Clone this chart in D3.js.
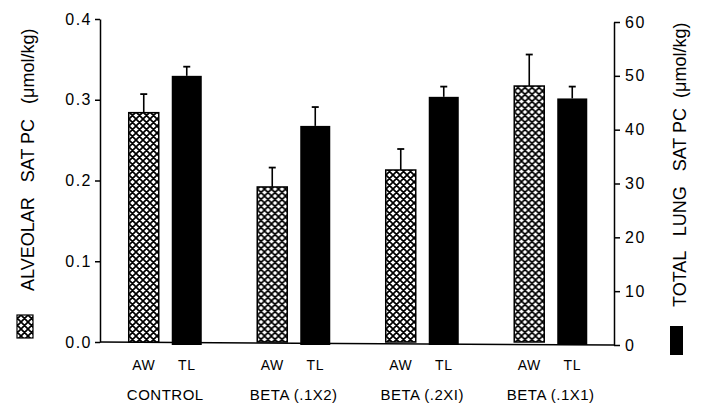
<!DOCTYPE html>
<html>
<head>
<meta charset="utf-8">
<script src="https://cdn.jsdelivr.net/npm/d3@7"></script>
<style>
  body { margin: 0; background: #fff; }
  svg { display: block; font-family: "Liberation Sans", Arial, sans-serif; }
</style>
</head>
<body>
<svg id="chart" width="702" height="408"></svg>
<script>
// Data
var groups = ['CONTROL', 'BETA (.1X2)', 'BETA (.2XI)', 'BETA (.1X1)'];
var measures = ['AW', 'TL'];
var awMean = [0.284, 0.192, 0.213, 0.317];   // alveolar wash, left axis
var awErr  = [0.023, 0.024, 0.026, 0.039];
var tlMean = [50.0, 40.7, 46.1, 45.8];       // total lung, right axis
var tlErr  = [1.7, 3.5, 1.9, 2.2];
var leftTicks  = [0, 0.1, 0.2, 0.3, 0.4];
var rightTicks = [0, 10, 20, 30, 40, 50, 60];

var svg = d3.select('#chart');

// crosshatch pattern for AW bars
var defs = svg.append('defs');
var pat = defs.append('pattern')
    .attr('id', 'xhatch')
    .attr('patternUnits', 'userSpaceOnUse')
    .attr('width', 7)
    .attr('height', 7);
pat.append('rect').attr('width', 7).attr('height', 7).attr('fill', '#fff');
pat.append('path')
    .attr('d', 'M0,0L7,7M7,0L0,7M-1,6L1,8M6,-1L8,1M-1,1L1,-1M6,8L8,6')
    .attr('stroke', '#000')
    .attr('stroke-width', 1.7);

// Scales
var xGroup = d3.scaleBand()
    .domain(groups)
    .range([101, 615])
    .padding(0);

var xInner = d3.scaleBand()
    .domain(measures)
    .range([0, xGroup.bandwidth()])
    .paddingInner(0.302)
    .paddingOuter(0.645);

var yL = d3.scaleLinear().domain([0, 0.4]).range([342, 19]);
var yR = d3.scaleLinear().domain([0, 60]).range([345, 22]);

var data = groups.map((g, i) => ({
    group: g,
    aw: awMean[i], awErr: awErr[i],
    tl: tlMean[i], tlErr: tlErr[i]
}));

// Axes
var leftAxis = svg.append('g')
    .attr('transform', 'translate(100,0)')
    .call(d3.axisLeft(yL)
        .tickValues(leftTicks)
        .tickFormat(d3.format('.1f'))
        .tickSize(5)
        .tickSizeOuter(0)
        .tickPadding(3));

var rightAxis = svg.append('g')
    .attr('transform', 'translate(614,0)')
    .call(d3.axisRight(yR)
        .tickValues(rightTicks)
        .tickSize(6)
        .tickSizeOuter(0)
        .tickPadding(5));

[leftAxis, rightAxis].forEach(a => {
    a.selectAll('path, line').attr('stroke', '#000').attr('stroke-width', 1.5);
    a.selectAll('text')
        .attr('fill', '#000')
        .attr('font-size', '16px')
        .attr('letter-spacing', '1.5px');
});

// baseline between the two axes
svg.append('line')
    .attr('x1', 100).attr('y1', yL(0))
    .attr('x2', 614).attr('y2', yR(0))
    .attr('stroke', '#000')
    .attr('stroke-width', 1.5);

// Bars
var gG = svg.selectAll('.grp')
    .data(data)
    .enter()
    .append('g')
    .attr('class', 'grp')
    .attr('transform', d => 'translate(' + xGroup(d.group) + ',0)');

var bw = xInner.bandwidth();

// error bars first (drawn behind bars)
function errBar(sel, xKey, top, base) {
    sel.append('line')
        .attr('x1', xInner(xKey) + bw / 2)
        .attr('x2', xInner(xKey) + bw / 2)
        .attr('y1', base)
        .attr('y2', top)
        .attr('stroke', '#000')
        .attr('stroke-width', 1.6);
    sel.append('line')
        .attr('x1', xInner(xKey) + bw / 2 - 3.5)
        .attr('x2', xInner(xKey) + bw / 2 + 3.5)
        .attr('y1', top)
        .attr('y2', top)
        .attr('stroke', '#000')
        .attr('stroke-width', 1.8);
}

gG.each(function(d) {
    var g = d3.select(this);
    errBar(g, 'AW', yL(d.aw + d.awErr), yL(d.aw));
    errBar(g, 'TL', yR(d.tl + d.tlErr), yR(d.tl));

    g.append('rect')
        .attr('x', xInner('AW'))
        .attr('y', yL(d.aw))
        .attr('width', bw)
        .attr('height', yL(0) - yL(d.aw))
        .attr('fill', 'url(#xhatch)')
        .attr('stroke', '#000')
        .attr('stroke-width', 1.5);

    g.append('rect')
        .attr('x', xInner('TL'))
        .attr('y', yR(d.tl))
        .attr('width', bw)
        .attr('height', yR(0) - yR(d.tl))
        .attr('fill', '#000');

    // category labels
    measures.forEach(m => {
        g.append('text')
            .attr('x', xInner(m) + bw / 2)
            .attr('y', 370)
            .attr('text-anchor', 'middle')
            .attr('font-size', '14px')
            .attr('letter-spacing', '0.5px')
            .text(m);
    });

    g.append('text')
        .attr('x', xGroup.bandwidth() / 2)
        .attr('y', 400)
        .attr('text-anchor', 'middle')
        .attr('font-size', '15px')
        .attr('letter-spacing', '0.5px')
        .text(d.group);
});

// Axis titles with legend swatches
svg.append('text')
    .attr('transform', 'translate(33.5,291) rotate(-90)')
    .attr('font-size', '18px')
    .attr('style', 'white-space: pre')
    .text('ALVEOLAR   SAT PC   (\u03bcmol/kg)');

svg.append('rect')
    .attr('x', 17).attr('y', 315)
    .attr('width', 16).attr('height', 23)
    .attr('fill', 'url(#xhatch)')
    .attr('stroke', '#000')
    .attr('stroke-width', 1.2);

svg.append('text')
    .attr('transform', 'translate(686,307) rotate(-90)')
    .attr('font-size', '18px')
    .attr('style', 'white-space: pre')
    .text('TOTAL   LUNG   SAT PC  (\u03bcmol/kg)');

svg.append('rect')
    .attr('x', 670).attr('y', 326)
    .attr('width', 13).attr('height', 29)
    .attr('fill', '#000');
</script>
</body>
</html>
